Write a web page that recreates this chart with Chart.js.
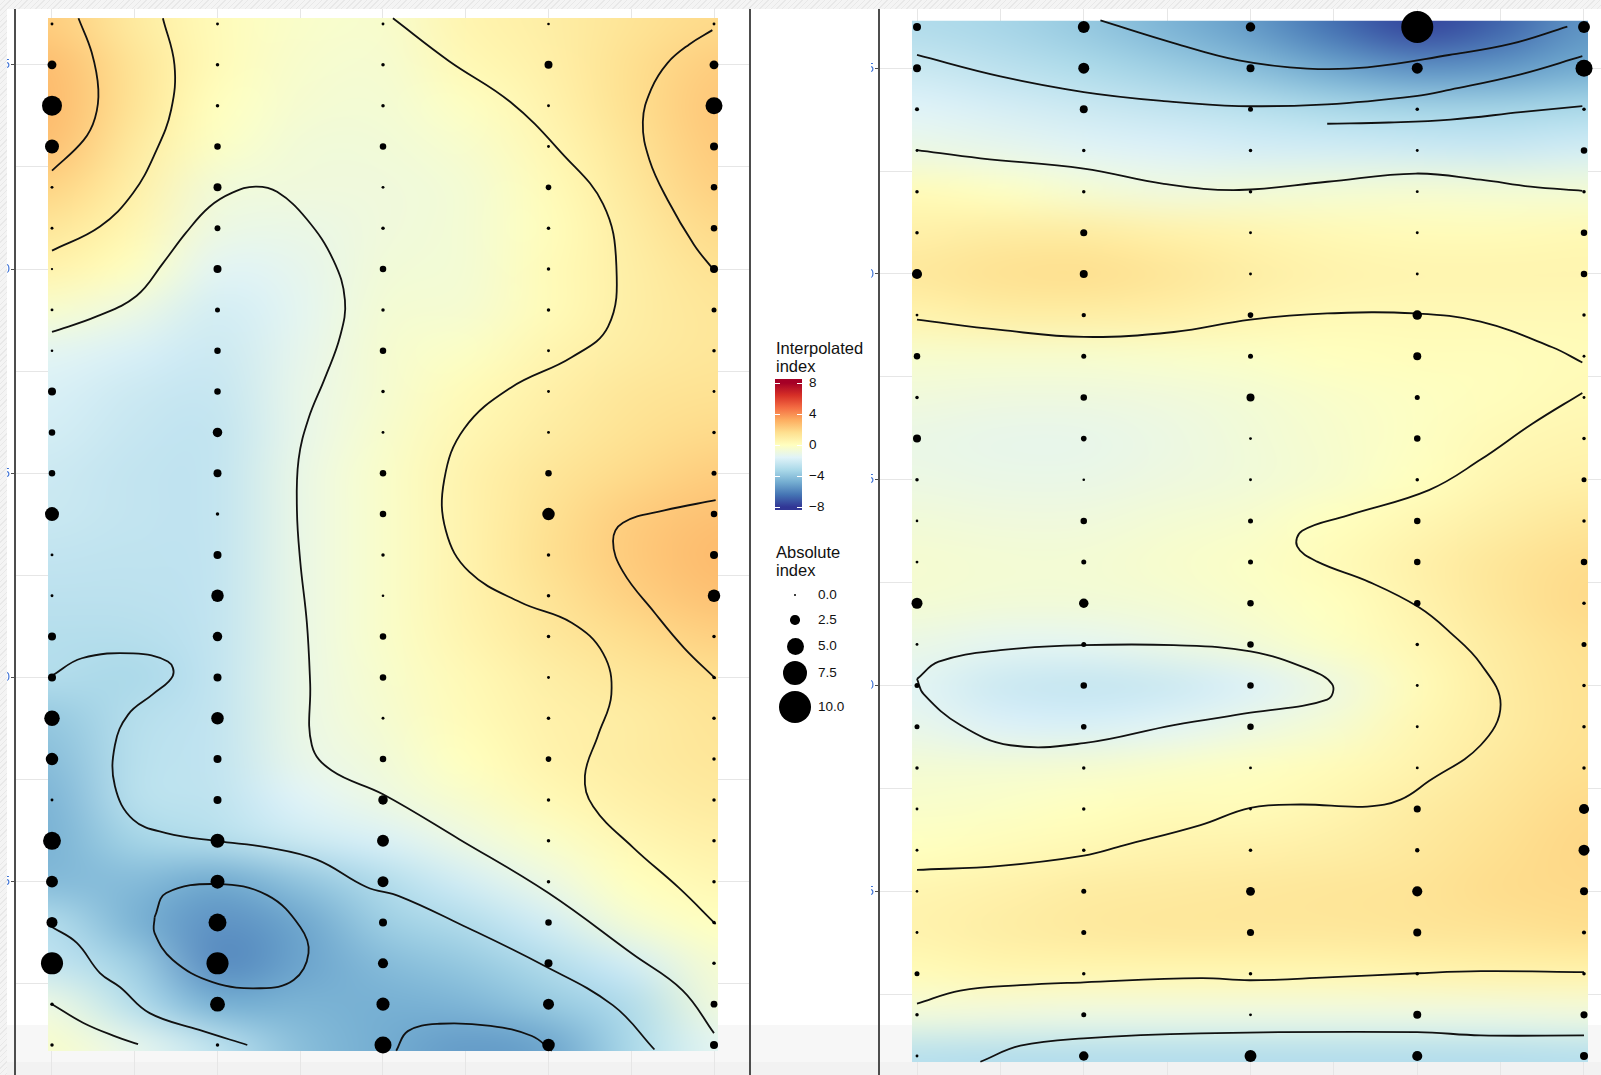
<!DOCTYPE html>
<html>
<head>
<meta charset="utf-8">
<script src="https://cdn.jsdelivr.net/npm/chart.js@4/dist/chart.umd.min.js"></script>
<style>
html, body { margin: 0; padding: 0; background: #fff; }
body { width: 1601px; height: 1075px; position: relative; overflow: hidden; font-family: "Liberation Sans", Arial, sans-serif; }
canvas { position: absolute; }
.band { position: absolute; left: 0; width: 1601px; }
.hatch { position: absolute; background: repeating-linear-gradient(135deg, #f4f4f4 0 3px, #e8e8e8 3px 4px); z-index: 5; }
.txt { position: absolute; color: #111; white-space: nowrap; }
.ttl { font-size: 16.5px; line-height: 17.5px; }
.num { font-size: 13.5px; line-height: 16px; }
.dot { position: absolute; background: #000; border-radius: 50%; }
.wt { position: absolute; height: 1px; background: #fff; }
</style>
</head>
<body>
<div class="band" style="top:1025px;height:37px;background:#f7f7f7"></div>
<div class="band" style="top:1062px;height:13px;background:#f2f2f2"></div>
<canvas id="Esquerda" width="745" height="1066" style="left:7px;top:9px"></canvas>
<canvas id="Direita" width="730" height="1066" style="left:871px;top:9px"></canvas>
<div class="hatch" style="left:0;top:0;width:1601px;height:9px"></div>
<div class="hatch" style="left:0;top:0;width:7px;height:1075px"></div>
<div id="legenda"></div>

<script>
var cols = [1, 2, 3, 4, 5];
var rows = [26, 25, 24, 23, 22, 21, 20, 19, 18, 17, 16, 15, 14, 13, 12, 11, 10, 9, 8, 7, 6, 5, 4, 3, 2, 1];
var heatCols = [1, 1.5, 2, 2.5, 3, 3.5, 4, 4.5, 5];
var xTicks = [1, 1.5, 2, 2.5, 3, 3.5, 4, 4.5, 5];
var yTicks = [2.5, 5, 7.5, 10, 12.5, 15, 17.5, 20, 22.5, 25];
var colourTicks = [8, 4, 0, -4, -8];
var sizeTicks = [0, 2.5, 5, 7.5, 10];

// absolute index at each station, rows top to bottom, columns 1..5
var tamanhoEsq = [
    [0.3, 0.3, 0.3, 0.2, 0.3],
    [2.3, 0.5, 0.5, 2, 2.3],
    [6, 0.5, 0.5, 0.3, 5],
    [4, 1.5, 1.5, 0.3, 2],
    [0.3, 2, 0.3, 1.2, 1.5],
    [0.3, 1.3, 0.5, 0.5, 1.5],
    [0.1, 2, 1.5, 0.5, 2],
    [0.3, 1, 0.5, 0.5, 1],
    [0.2, 1.5, 1.5, 0.3, 0.5],
    [2, 1.5, 0.5, 0.3, 0.3],
    [1.5, 2.5, 0.3, 0.3, 0.5],
    [1.5, 2, 1.5, 1.5, 1],
    [4, 0.5, 1.5, 3.5, 1.5],
    [0.3, 2, 0.5, 0.5, 2],
    [0.3, 3.5, 0.2, 0.5, 3.5],
    [2, 2.5, 1.5, 0.5, 0.5],
    [2, 2, 1.5, 0.3, 0.5],
    [4.5, 3.5, 0.3, 0.5, 0.5],
    [3.5, 2, 1.5, 1.2, 0.5],
    [0.3, 2, 2.5, 0.5, 0.5],
    [5.3, 4, 3.3, 0.5, 0.5],
    [3.3, 4, 3, 0.5, 0.5],
    [3, 5.3, 2, 1.5, 0.5],
    [6.7, 6.7, 2.7, 2, 0.5],
    [0.5, 4.3, 3.7, 3, 1.6],
    [0.5, 0.5, 5, 3.5, 2]
];
var tamanhoDir = [
    [2, 3.3, 2.5, 10, 3.3],
    [2, 3, 2, 3, 5],
    [0.7, 2, 1, 0.5, 0.5],
    [0.3, 0.5, 0.5, 0.3, 1.5],
    [0.5, 0.5, 0.5, 0.3, 0.5],
    [0.5, 1.7, 0.3, 0.3, 1.5],
    [2.7, 2, 0.3, 0.3, 1.5],
    [0.3, 0.8, 1.2, 2.5, 0.5],
    [1.5, 1, 1, 2, 0.3],
    [0.5, 1.5, 2, 1, 0.3],
    [2, 1.2, 0.3, 1.5, 0.5],
    [0.5, 0.2, 0.3, 0.5, 1],
    [0.2, 1.5, 1, 1.5, 0.5],
    [0.3, 1, 1, 1.5, 1.5],
    [3, 2.5, 1.5, 1.5, 0.5],
    [0.3, 1, 1.5, 0.5, 1],
    [1, 1.5, 1.5, 0.3, 0.5],
    [1, 1.2, 1.5, 0.3, 0.5],
    [0.5, 0.5, 0.3, 0.3, 0.5],
    [0.3, 0.5, 0.3, 1.7, 2.7],
    [0.3, 0.5, 0.5, 0.8, 3],
    [0.2, 1, 2.3, 2.7, 2],
    [0.3, 1, 1.7, 2, 0.7],
    [1, 0.5, 0.5, 0.5, 0.5],
    [0.5, 1, 0.3, 2, 1.7],
    [0.3, 2.5, 3.3, 2.7, 2]
];

// interpolated index, rows top to bottom, columns heatCols
var calorEsq = [
    [2.2, 1.1, 0.2, -0.3, -0.4, 0.5, 0.9, 1.4, 1.8],
    [2.7, 1.4, 0.2, -0.4, -0.5, 0.3, 0.8, 1.6, 2.2],
    [2.8, 1.4, 0.0, -0.5, -0.6, -0.1, 0.6, 1.6, 2.4],
    [2.6, 1.1, -0.2, -0.7, -0.7, -0.4, 0.4, 1.4, 2.3],
    [2.0, 0.8, -0.7, -0.8, -0.8, -0.6, 0.2, 1.2, 2.1],
    [1.3, 0.4, -1.0, -1.1, -0.8, -0.6, 0.1, 1.0, 1.8],
    [0.6, -0.1, -1.5, -1.3, -0.7, -0.6, 0.2, 0.9, 1.5],
    [-0.4, -1.0, -2.0, -1.4, -0.6, -0.5, 0.2, 0.9, 1.3],
    [-1.4, -1.8, -2.2, -1.3, -0.5, -0.2, 0.5, 1.0, 1.3],
    [-1.8, -2.2, -2.4, -1.2, -0.5, 0.2, 0.8, 1.3, 1.5],
    [-2.0, -2.4, -2.5, -1.2, -0.4, 0.4, 1.0, 1.5, 1.8],
    [-2.2, -2.5, -2.5, -1.1, -0.3, 0.6, 1.3, 1.8, 2.2],
    [-2.3, -2.5, -2.5, -1.1, -0.3, 0.6, 1.5, 2.2, 2.6],
    [-2.5, -2.6, -2.5, -1.1, -0.3, 0.6, 1.6, 2.3, 2.8],
    [-2.7, -2.7, -2.5, -1.1, -0.3, 0.6, 1.4, 2.1, 2.6],
    [-2.9, -2.9, -2.5, -1.1, -0.3, 0.5, 1.2, 1.7, 2.1],
    [-3.0, -3.2, -2.5, -1.1, -0.4, 0.3, 0.9, 1.3, 1.6],
    [-3.8, -2.9, -2.5, -1.1, -0.5, 0.2, 0.7, 1.0, 1.4],
    [-4.2, -2.8, -2.5, -1.2, -0.7, 0.0, 0.6, 1.0, 1.3],
    [-4.5, -2.8, -2.6, -1.6, -1.0, -0.4, 0.3, 0.8, 1.1],
    [-4.6, -3.4, -3.0, -2.3, -1.8, -1.0, -0.3, 0.4, 0.8],
    [-4.3, -4.3, -4.9, -4.0, -3.0, -2.0, -1.0, 0.0, 0.4],
    [-3.0, -4.6, -5.6, -5.0, -3.6, -3.0, -2.0, -0.6, 0.0],
    [-2.5, -3.6, -5.8, -5.1, -4.3, -3.8, -3.0, -2.0, -0.5],
    [-1.0, -2.9, -4.7, -4.6, -4.7, -4.5, -3.8, -3.0, -0.8],
    [-0.4, -1.3, -2.7, -4.2, -4.8, -5.3, -5.0, -3.2, -1.4]
];
var calorDir = [
    [-3.0, -3.3, -3.8, -4.5, -5.3, -6.5, -7.6, -6.8, -5.5],
    [-2.3, -2.7, -3.1, -3.6, -4.2, -5.0, -5.6, -5.4, -4.8],
    [-1.6, -1.9, -2.2, -2.5, -2.8, -3.2, -3.4, -3.4, -3.2],
    [-1.0, -1.2, -1.5, -1.7, -1.9, -2.0, -2.1, -2.2, -2.0],
    [0.2, -0.1, -0.5, -0.8, -0.7, -0.6, -0.5, -0.6, -0.6],
    [0.8, 1.0, 1.0, 0.7, 0.5, 0.3, 0.2, 0.2, 0.3],
    [1.2, 1.5, 1.6, 1.3, 0.9, 0.6, 0.5, 0.5, 0.5],
    [0.6, 0.9, 0.9, 0.8, 0.5, 0.3, 0.3, 0.3, 0.3],
    [-0.4, -0.4, -0.4, -0.3, -0.2, 0.0, 0.1, 0.1, 0.2],
    [-0.8, -0.9, -0.9, -0.8, -0.6, -0.3, -0.1, 0.1, 0.3],
    [-1.1, -1.2, -1.2, -1.0, -0.7, -0.4, -0.1, 0.3, 0.5],
    [-1.0, -1.1, -1.1, -0.9, -0.7, -0.4, 0.0, 0.5, 0.8],
    [-0.7, -0.8, -0.8, -0.6, -0.4, 0.0, 0.4, 0.9, 1.3],
    [-0.5, -0.6, -0.6, -0.4, -0.2, 0.2, 0.7, 1.3, 1.7],
    [-0.6, -0.7, -0.7, -0.6, -0.3, 0.0, 0.6, 1.3, 1.8],
    [-1.1, -1.4, -1.4, -1.1, -0.7, -0.2, 0.4, 1.1, 1.6],
    [-1.5, -2.2, -2.4, -2.2, -1.7, -0.9, 0.2, 1.0, 1.5],
    [-1.2, -1.7, -1.8, -1.5, -1.0, -0.5, 0.4, 1.0, 1.5],
    [-0.6, -0.6, -0.5, -0.3, -0.1, 0.2, 0.6, 1.2, 1.6],
    [-0.3, -0.2, 0.0, 0.2, 0.2, 0.5, 1.0, 1.4, 1.8],
    [0.0, 0.2, 0.4, 0.6, 0.7, 0.9, 1.2, 1.6, 1.9],
    [0.5, 0.7, 1.0, 1.1, 1.2, 1.3, 1.4, 1.7, 1.8],
    [0.6, 0.9, 1.1, 1.2, 1.2, 1.2, 1.3, 1.4, 1.6],
    [0.2, 0.4, 0.4, 0.4, 0.4, 0.4, 0.5, 0.6, 0.6],
    [-0.8, -0.9, -1.0, -1.0, -1.0, -1.0, -1.0, -1.0, -0.9],
    [-2.8, -2.9, -2.9, -2.9, -2.9, -2.9, -2.9, -2.9, -2.8]
];

// contour lines, [column, row]
var contornosEsq = [
    [[1.16, 26.14], [1.24, 25.3], [1.28, 24.4], [1.26, 23.7], [1.19, 23.15], [1.0, 22.41]],
    [[1.67, 26.14], [1.74, 25.0], [1.72, 23.9], [1.63, 22.9], [1.49, 21.86], [1.29, 21.04], [1.0, 20.45]],
    [[4.99, 25.85], [4.85, 25.5], [4.72, 25.05], [4.62, 24.4], [4.57, 23.6], [4.61, 22.67], [4.72, 21.69], [4.88, 20.59], [5.0, 19.97]],
    [[1.0, 18.46], [1.27, 18.84], [1.51, 19.34], [1.67, 20.14], [1.81, 20.89], [1.95, 21.52], [2.09, 21.87], [2.23, 22.02], [2.36, 21.89],
     [2.54, 21.22], [2.70, 20.22], [2.77, 19.24], [2.74, 18.34], [2.65, 17.34], [2.55, 16.34], [2.49, 15.34], [2.48, 14.09], [2.50, 12.84],
     [2.54, 11.34], [2.56, 9.84], [2.57, 8.34], [2.69, 7.72], [3.0, 7.14], [3.46, 6.04], [4.0, 4.72], [4.51, 3.22], [4.81, 2.34], [5.0, 1.29]],
    [[3.06, 26.14], [3.40, 25.09], [3.77, 24.09], [4.08, 22.84], [4.33, 21.59], [4.41, 20.09], [4.36, 18.59], [4.14, 17.84], [3.77, 17.09],
     [3.49, 16.09], [3.37, 14.84], [3.38, 13.59], [3.52, 12.59], [3.83, 11.84], [4.14, 11.34], [4.33, 10.59], [4.38, 9.59], [4.30, 8.59],
     [4.22, 7.59], [4.27, 6.84], [4.51, 5.84], [4.79, 4.84], [5.01, 3.96]],
    [[5.01, 14.34], [4.70, 14.09], [4.45, 13.79], [4.39, 13.34], [4.45, 12.59], [4.64, 11.59], [4.82, 10.72], [5.01, 9.97]],
    [[1.0, 10.04], [1.18, 10.47], [1.49, 10.59], [1.70, 10.39], [1.73, 10.04], [1.61, 9.59], [1.46, 9.09], [1.38, 8.34], [1.38, 7.34],
     [1.49, 6.52], [1.69, 6.19], [2.0, 5.99], [2.30, 5.84], [2.60, 5.54], [2.90, 4.87], [3.10, 4.64], [3.46, 3.97], [3.96, 2.97],
     [4.39, 1.97], [4.64, 0.89]],
    [[1.0, 3.89], [1.15, 3.5], [1.29, 2.76], [1.41, 2.42], [1.59, 1.78], [1.89, 1.37], [2.18, 1.0]],
    [[1.0, 2.0], [1.19, 1.54], [1.39, 1.2], [1.52, 1.02]],
    [[1.62, 4.13], [1.69, 4.72], [2.0, 4.94], [2.30, 4.67], [2.50, 3.89], [2.55, 3.25], [2.46, 2.59], [2.26, 2.39], [1.97, 2.54],
     [1.73, 3.08], [1.62, 3.74], [1.62, 4.13]],
    [[3.08, 0.86], [3.15, 1.34], [3.34, 1.52], [3.65, 1.47], [3.90, 1.22], [4.02, 0.86]]
];
var contornosDir = [
    [[2.10, 26.16], [2.54, 25.61], [2.93, 25.19], [3.34, 24.99], [3.70, 25.02], [4.19, 25.32], [4.56, 25.59], [4.90, 26.01]],
    [[1.0, 25.32], [1.50, 24.80], [2.0, 24.42], [2.48, 24.20], [2.93, 24.08], [3.46, 24.12], [3.99, 24.32], [4.20, 24.48], [4.62, 24.85], [4.99, 25.29]],
    [[3.46, 23.65], [3.83, 23.68], [4.20, 23.75], [4.62, 23.93], [4.99, 24.08]],
    [[1.0, 23.01], [1.38, 22.81], [2.0, 22.56], [2.48, 22.19], [2.93, 22.04], [3.46, 22.24], [3.99, 22.44], [4.38, 22.29], [4.68, 22.12], [4.99, 22.02]],
    [[1.0, 18.89], [1.50, 18.64], [2.0, 18.47], [2.54, 18.59], [3.0, 18.89], [3.46, 19.04], [3.99, 19.04], [4.38, 18.84], [4.81, 18.22], [4.99, 17.85]],
    [[4.99, 17.11], [4.69, 16.36], [4.38, 15.49], [4.07, 14.75], [3.58, 14.13], [3.31, 13.76], [3.28, 13.38], [3.40, 13.01], [3.71, 12.52],
     [4.01, 11.90], [4.20, 11.28], [4.38, 10.53], [4.50, 9.54], [4.38, 8.55], [4.07, 7.68], [3.90, 7.23], [3.70, 7.06], [3.30, 7.11],
     [3.0, 7.03], [2.70, 6.61], [2.24, 6.12], [2.0, 5.87], [1.50, 5.62], [1.0, 5.52]],
    [[1.0, 10.16], [1.13, 10.58], [1.50, 10.86], [2.0, 10.98], [2.54, 10.98], [3.0, 10.83], [3.34, 10.41], [3.49, 10.03], [3.46, 9.66],
     [3.0, 9.34], [2.54, 9.04], [2.0, 8.60], [1.56, 8.55], [1.26, 9.04], [1.04, 9.79], [1.0, 10.16]],
    [[1.0, 2.27], [1.26, 2.59], [1.62, 2.72], [2.0, 2.79], [2.70, 2.89], [3.0, 2.84], [3.46, 2.91], [4.0, 3.01], [4.38, 3.06], [5.0, 3.04]],
    [[1.38, 0.86], [1.62, 1.25], [2.0, 1.43], [2.70, 1.55], [4.0, 1.58], [4.38, 1.50], [5.0, 1.50]]
];

var paleta = ['#313695', '#4575b4', '#74add1', '#abd9e9', '#e0f3f8', '#ffffbf', '#fee090', '#fdae61', '#f46d43', '#d73027', '#a50026'];

function hexRgb(h) {
    return [parseInt(h.substr(1, 2), 16), parseInt(h.substr(3, 2), 16), parseInt(h.substr(5, 2), 16)];
}
var paletaRgb = paleta.map(hexRgb);

function corPara(v) {
    var t = (Math.max(-8, Math.min(8, v)) + 8) / 16 * 10;
    var i = Math.min(9, Math.floor(t));
    var f = t - i;
    var a = paletaRgb[i], b = paletaRgb[i + 1];
    return [a[0] + (b[0] - a[0]) * f, a[1] + (b[1] - a[1]) * f, a[2] + (b[2] - a[2]) * f];
}

function raio(v) {
    return 1 + 1.5 * v;
}

var heatPlugin = {
    id: 'heat',
    beforeDatasetsDraw: function (chart, args, opts) {
        var grade = opts.grid;
        var nr = grade.length, nc = grade[0].length;
        var off = document.createElement('canvas');
        off.width = nc;
        off.height = nr;
        var octx = off.getContext('2d');
        var img = octx.createImageData(nc, nr);
        for (var i = 0; i < nr; i++) {
            for (var j = 0; j < nc; j++) {
                var c = corPara(grade[i][j]);
                var k = (i * nc + j) * 4;
                img.data[k] = Math.round(c[0]);
                img.data[k + 1] = Math.round(c[1]);
                img.data[k + 2] = Math.round(c[2]);
                img.data[k + 3] = 255;
            }
        }
        octx.putImageData(img, 0, 0);

        var xs = chart.scales.x, ys = chart.scales.y, ctx = chart.ctx;
        var meio = (heatCols[1] - heatCols[0]) / 2;
        var x0 = xs.getPixelForValue(heatCols[0] - meio);
        var x1 = xs.getPixelForValue(heatCols[nc - 1] + meio);
        var y0 = ys.getPixelForValue(rows[0] + 0.5);
        var y1 = ys.getPixelForValue(rows[nr - 1] - 0.5);
        var e = opts.ext;
        var cx0 = xs.getPixelForValue(e[0]), cx1 = xs.getPixelForValue(e[1]);
        var cy0 = ys.getPixelForValue(e[3]), cy1 = ys.getPixelForValue(e[2]);

        ctx.save();
        ctx.beginPath();
        ctx.rect(cx0, cy0, cx1 - cx0, cy1 - cy0);
        ctx.clip();
        ctx.imageSmoothingEnabled = true;
        ctx.imageSmoothingQuality = 'high';
        ctx.drawImage(off, x0, y0, x1 - x0, y1 - y0);
        ctx.restore();
    },
    afterDraw: function (chart, args, opts) {
        if (!opts.rightLine) return;
        var ctx = chart.ctx, a = chart.chartArea;
        ctx.save();
        ctx.strokeStyle = '#4d4d4d';
        ctx.lineWidth = 2;
        ctx.beginPath();
        ctx.moveTo(a.right, a.top);
        ctx.lineTo(a.right, a.bottom);
        ctx.stroke();
        ctx.restore();
    }
};

function pontos(tamanhos) {
    var out = [];
    rows.forEach(function (r, i) {
        cols.forEach(function (c, j) {
            out.push({ x: c, y: r, v: tamanhos[i][j] });
        });
    });
    return out;
}

function desenhar(id, tamanhos, calor, contornos, xr, yr, ext, padRight, rightLine) {
    var datasets = [{
        type: 'scatter',
        data: pontos(tamanhos),
        pointRadius: function (ctx) { return ctx.raw ? raio(ctx.raw.v) : 0; },
        pointBackgroundColor: '#000',
        pointBorderWidth: 0,
        order: 0
    }];
    contornos.forEach(function (linha) {
        datasets.push({
            type: 'line',
            data: linha.map(function (p) { return { x: p[0], y: p[1] }; }),
            borderColor: '#111',
            borderWidth: 1.8,
            pointRadius: 0,
            tension: 0.4,
            fill: false,
            order: 1
        });
    });

    var ctx = document.getElementById(id).getContext('2d');
    return new Chart(ctx, {
        type: 'scatter',
        data: { datasets: datasets },
        plugins: [heatPlugin],
        options: {
            responsive: false,
            animation: false,
            devicePixelRatio: 1,
            events: [],
            layout: { autoPadding: false, padding: { left: 0, top: 0, bottom: 0, right: padRight } },
            plugins: {
                legend: { display: false },
                tooltip: { enabled: false },
                heat: { grid: calor, ext: ext, rightLine: rightLine }
            },
            scales: {
                x: {
                    type: 'linear',
                    min: xr[0],
                    max: xr[1],
                    afterBuildTicks: function (s) { s.ticks = xTicks.map(function (v) { return { value: v }; }); },
                    afterFit: function (s) { s.height = 0; s.paddingLeft = 0; s.paddingRight = 0; },
                    ticks: { display: false },
                    border: { display: false },
                    grid: { color: '#e6e6e6', lineWidth: 1, drawTicks: false }
                },
                y: {
                    type: 'linear',
                    min: yr[0],
                    max: yr[1],
                    afterBuildTicks: function (s) { s.ticks = yTicks.map(function (v) { return { value: v }; }); },
                    afterFit: function (s) { s.width = 8; s.paddingTop = 0; s.paddingBottom = 0; },
                    ticks: {
                        color: '#3d72d6',
                        font: { size: 13 },
                        padding: 1,
                        autoSkip: false,
                        callback: function (v) { return v % 5 === 0 ? String(v) : ''; }
                    },
                    border: { display: true, color: '#4d4d4d', width: 2 },
                    grid: {
                        color: '#e6e6e6',
                        lineWidth: 1,
                        tickLength: 4,
                        tickColor: function (c) { return c.tick && c.tick.value % 5 === 0 ? '#4d4d4d' : 'rgba(0,0,0,0)'; }
                    }
                }
            }
        }
    });
}

Chart.defaults.font.family = '"Liberation Sans", Arial, sans-serif';

desenhar('Esquerda', tamanhoEsq, calorEsq, contornosEsq,
    [0.77644, 5.21752], [0.26543, 26.3673], [0.976, 5.024, 0.853, 26.147], 2, true);
desenhar('Direita', tamanhoDir, calorDir, contornosDir,
    [0.77211, 5.10195], [0.5384, 26.4373], [0.97, 5.024, 0.854, 26.15], 0, false);

// legend
function legenda() {
    var box = document.getElementById('legenda');
    var html = '';
    html += '<div class="txt ttl" style="left:776px;top:340px">Interpolated<br>index</div>';
    var topo = 379, alt = 131, pxPorUnidade = 7.75;
    var stops = ['#a50026 0%'];
    for (var i = paleta.length - 1; i >= 0; i--) {
        var v = -8 + i * 1.6;
        var pos = (4 + (8 - v) * pxPorUnidade) / alt * 100;
        stops.push(paleta[i] + ' ' + pos.toFixed(2) + '%');
    }
    stops.push('#313695 100%');
    html += '<div style="position:absolute;left:775px;top:' + topo + 'px;width:27px;height:' + alt + 'px;background:linear-gradient(to bottom,' + stops.join(',') + ')"></div>';
    colourTicks.forEach(function (v) {
        var y = topo + 4 + (8 - v) * pxPorUnidade;
        html += '<div class="wt" style="left:775px;top:' + (y - 0.5) + 'px;width:5px"></div>';
        html += '<div class="wt" style="left:797px;top:' + (y - 0.5) + 'px;width:5px"></div>';
        var lbl = v < 0 ? '\u2212' + (-v) : String(v);
        html += '<div class="txt num" style="left:809px;top:' + (y - 8) + 'px">' + lbl + '</div>';
    });
    html += '<div class="txt ttl" style="left:776px;top:544px">Absolute<br>index</div>';
    var ys = [595, 620, 646, 673, 707];
    sizeTicks.forEach(function (v, i) {
        var r = raio(v);
        html += '<div class="dot" style="left:' + (795 - r) + 'px;top:' + (ys[i] - r) + 'px;width:' + (2 * r) + 'px;height:' + (2 * r) + 'px"></div>';
        html += '<div class="txt num" style="left:818px;top:' + (ys[i] - 8) + 'px">' + v.toFixed(1) + '</div>';
    });
    box.innerHTML = html;
}
legenda();
</script>
</body>
</html>
